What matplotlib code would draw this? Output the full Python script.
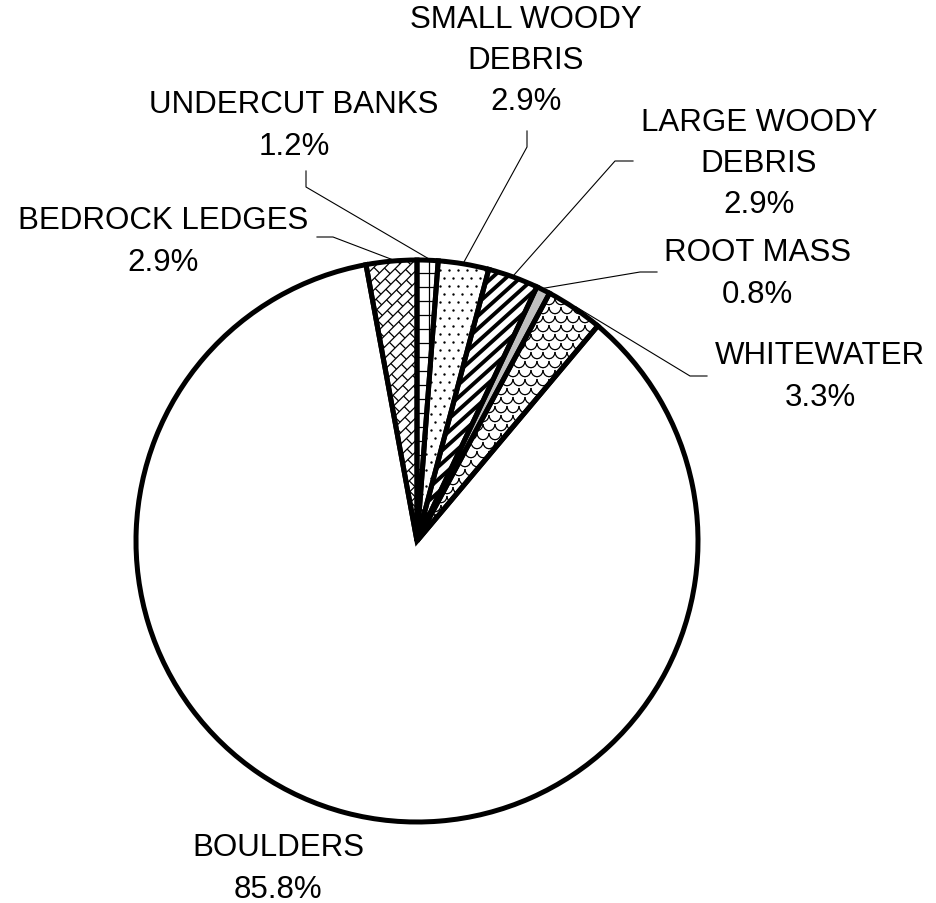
import numpy as np
import matplotlib.pyplot as plt
from matplotlib.patches import Wedge
from matplotlib.collections import LineCollection

plt.rcParams['font.family'] = ['Liberation Sans', 'DejaVu Sans']

# habitat cover types, clockwise from the top
labels = ['BEDROCK LEDGES', 'UNDERCUT BANKS', 'SMALL WOODY\nDEBRIS',
          'LARGE WOODY\nDEBRIS', 'ROOT MASS', 'WHITEWATER', 'BOULDERS']
percent = [2.9, 1.2, 2.9, 2.9, 0.8, 3.3, 85.8]
fills = ['white', 'white', 'white', 'white', '#c0c0c0', 'white', 'white']

# label placement in pixel units around the pie centre
text_xy = [(-254, 300), (-123, 416), (109, 481), (342, 378),
           (340, 268), (403, 165), (-139, -327)]
# leader line: elbow point then end point near the text (None = no leader)
leaders = [((-84, 304), (-100, 304)),
           ((-111, 354), (-111, 370)),
           ((110, 394), (110, 410)),
           ((198, 380), (216, 380)),
           ((223, 269), (240, 269)),
           ((273, 165), (290, 165)),
           None]

R = 281

fig = plt.figure(figsize=(9.36, 9.04), dpi=100)
ax = fig.add_axes([0, 0, 1, 1])

start = 90 + 360 * percent[0] / sum(percent)
wedges, _ = ax.pie(percent, radius=R, startangle=start, counterclock=False,
                   colors=fills, wedgeprops=dict(linewidth=0, zorder=1))
ax.set_xlim(-417, 519)
ax.set_ylim(-362, 542)
ax.set_aspect('equal')
ax.axis('off')


def basis(angle):
    a = np.radians(angle)
    return np.array([np.cos(a), np.sin(a)]), np.array([-np.sin(a), np.cos(a)])


def parallel(angle, gap, ext=320):
    u, v = basis(angle)
    return [[k * v - ext * u, k * v + ext * u] for k in np.arange(-ext, ext, gap)]


def bricks(angle, gap, step, ext=320):
    u, v = basis(angle)
    segs = parallel(angle, gap, ext)
    for j, k in enumerate(np.arange(-ext, ext, gap)):
        off = (j % 2) * step / 2
        for t in np.arange(-ext, ext, step) + off:
            segs.append([k * v + t * u, (k + gap) * v + t * u])
    return segs


def scales(w, h, box):
    x0, y0, x1, y1 = box
    th = np.linspace(np.pi, 2 * np.pi, 9)
    segs = []
    for j, y in enumerate(np.arange(y0 - h, y1 + h, h)):
        off = (j % 2) * w / 2
        for x in np.arange(x0 - w, x1 + w, w) + off:
            segs.append(np.column_stack([x + w / 2 * np.cos(th),
                                         y + h * 0.75 * np.sin(th)]))
    return segs


def add_lines(segs, wedge, lw=0.9):
    lc = LineCollection(segs, colors='black', linewidths=lw, zorder=2)
    lc.set_clip_path(wedge)
    ax.add_collection(lc)


def box_of(wedge):
    vv = wedge.get_path().vertices
    return vv[:, 0].min(), vv[:, 1].min(), vv[:, 0].max(), vv[:, 1].max()


# fill patterns
add_lines(bricks(45, 8, 14), wedges[0])
add_lines(parallel(0, 14) + parallel(90, 14), wedges[1])

bx = box_of(wedges[2])
gx, gy = np.meshgrid(np.arange(bx[0] - 9, bx[2] + 9, 9.0),
                     np.arange(bx[1] - 9, bx[3] + 9, 8.0))
gx = gx + (np.arange(gx.shape[0])[:, None] % 2) * 4.5
dots = ax.scatter(gx.ravel(), gy.ravel(), s=3.0,
                  color='black', linewidths=0, zorder=2)
dots.set_clip_path(wedges[2])

add_lines(parallel(42, 9.5), wedges[3], lw=2.8)
add_lines(scales(12, 9, box_of(wedges[5])), wedges[5])

# thick wedge outlines on top of the patterns
for w in wedges:
    ax.add_patch(Wedge((0, 0), R, w.theta1, w.theta2, fill=False,
                       edgecolor='black', linewidth=3.6, zorder=3))

# labels and leader lines
for w, lab, pct, xy, ld in zip(wedges, labels, percent, text_xy, leaders):
    ax.text(xy[0], xy[1], f'{lab}\n{pct:.1f}%', ha='center', va='center',
            fontsize=22.5, linespacing=1.48, color='black')
    if ld is not None:
        mid = np.radians((w.theta1 + w.theta2) / 2)
        p0 = (R + 2) * np.cos(mid), (R + 2) * np.sin(mid)
        xs = [p0[0], ld[0][0], ld[1][0]]
        ys = [p0[1], ld[0][1], ld[1][1]]
        ax.plot(xs, ys, color='black', linewidth=0.8, zorder=2)

fig.savefig('out.png', dpi=100, facecolor='white')
